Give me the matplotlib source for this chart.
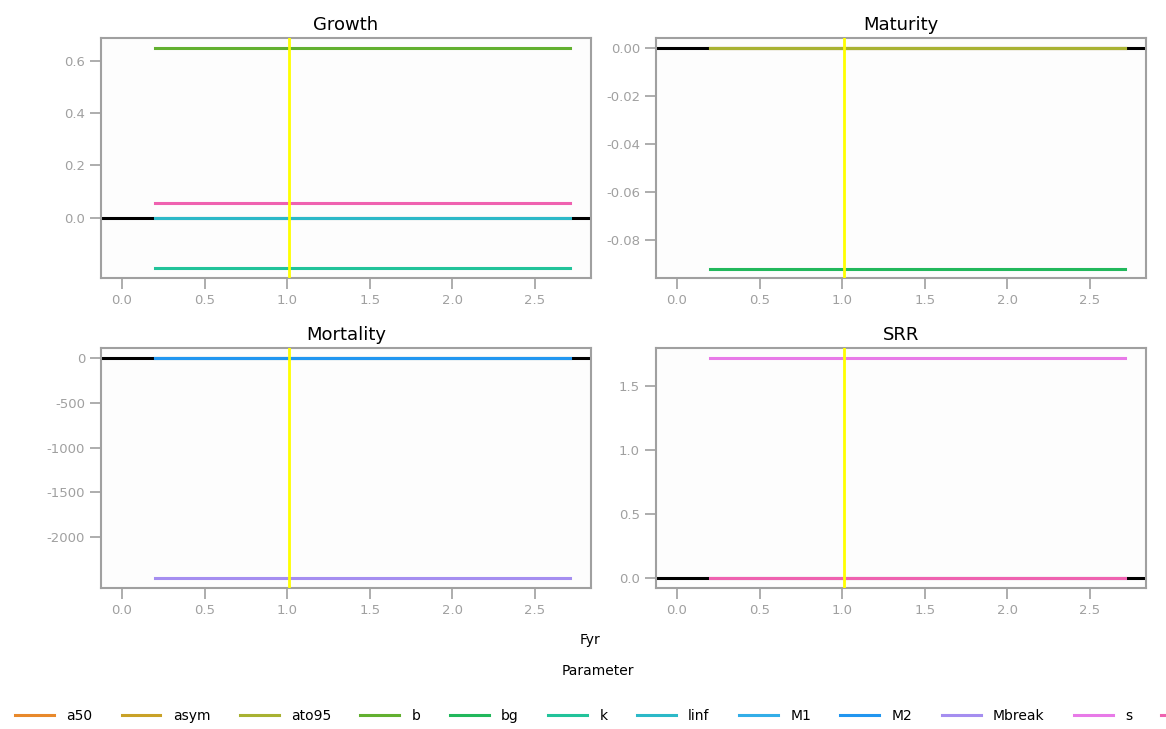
import numpy as np
import matplotlib
matplotlib.use("Agg")
from matplotlib import pyplot as plt
from matplotlib.lines import Line2D

# parameter names and legend colours
params = ["a50", "asym", "ato95", "b", "bg", "k", "linf", "M1", "M2", "Mbreak", "s", "v"]
colours = ["#e8892b", "#c9a227", "#a8b232", "#62b030", "#22b85c", "#22c39a",
           "#2cb9c8", "#33aee8", "#2196f0", "#a58ef0", "#e87ae8", "#ef62b0"]

# x positions of the flat segments (Fyr)
fyr = [0.2, 2.71]
fyr_ref = 1.01

# values per panel
growth_names = ["b", "v", "linf", "k"]
growth_vals = [0.65, 0.058, 0.0, -0.192]
maturity_names = ["a50", "asym", "ato95", "bg"]
maturity_vals = [0.0, 0.0, 0.0, -0.0921]
mortality_names = ["M1", "M2", "Mbreak"]
mortality_vals = [0.0, 0.0, -2458]
srr_names = ["s", "v"]
srr_vals = [1.719, 0.0]

panels = [
    ("Growth", growth_names, growth_vals, (-0.231, 0.688), [0.0, 0.2, 0.4, 0.6], "{:.1f}"),
    ("Maturity", maturity_names, maturity_vals, (-0.0959, 0.0042),
     [-0.08, -0.06, -0.04, -0.02, 0.0], "{:.2f}"),
    ("Mortality", mortality_names, mortality_vals, (-2570, 112),
     [-2000, -1500, -1000, -500, 0], "{:.0f}"),
    ("SRR", srr_names, srr_vals, (-0.078, 1.797), [0.0, 0.5, 1.0, 1.5], "{:.1f}"),
]

colour_of = dict(zip(params, colours))
grey = "#a0a0a0"

fig = plt.figure(figsize=(11.66, 7.29), dpi=100)
boxes = [(101, 38), (656, 38), (101, 348), (656, 348)]
W, H = 1166, 729
for (title, names, vals, ylim, yticks, fmt), (x0, y0) in zip(panels, boxes):
    ax = fig.add_axes([x0 / W, 1 - (y0 + 240) / H, 490 / W, 240 / H])
    ax.set_facecolor("#fdfdfd")
    ax.axhline(0, color="black", lw=2.2, zorder=1)
    for n, v in zip(names, vals):
        ax.plot(fyr, [v, v], color=colour_of[n], lw=2.2, zorder=2)
    ax.axvline(fyr_ref, color="#ffff00", lw=2, zorder=3)
    ax.set_xlim(-0.127, 2.84)
    ax.set_ylim(*ylim)
    ax.set_xticks([0.0, 0.5, 1.0, 1.5, 2.0, 2.5])
    ax.set_xticklabels(["{:.1f}".format(t) for t in [0.0, 0.5, 1.0, 1.5, 2.0, 2.5]])
    ax.set_yticks(yticks)
    ax.set_yticklabels([fmt.format(t) for t in yticks])
    ax.tick_params(colors=grey, labelcolor=grey, labelsize=9.5, length=8, width=1.2)
    for sp in ax.spines.values():
        sp.set_color(grey)
        sp.set_linewidth(1.5)
    ax.set_title(title, fontsize=13, pad=6)

fig.text(590 / W, 1 - 640 / H, "Fyr", ha="center", va="center", fontsize=10)
fig.text(598 / W, 1 - 671 / H, "Parameter", ha="center", va="center", fontsize=10)

# legend runs past the right edge as in the original; the last label
# falls outside the picture there, so it is left blank
handles = [Line2D([], [], color=c, lw=2.2) for c in colours]
labels = params[:-1] + [""]
fig.legend(handles, labels, loc="center left", bbox_to_anchor=(0.008, 1 - 716 / H),
           ncol=12, frameon=False, fontsize=10, handlelength=2.8,
           handletextpad=0.9, columnspacing=2.1, borderaxespad=0)

fig.savefig("out.png", dpi=100)
